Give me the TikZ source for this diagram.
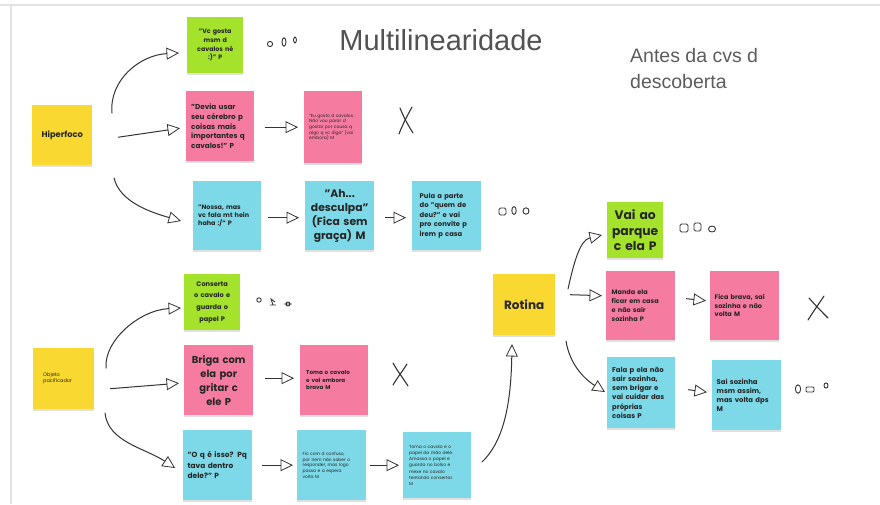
\documentclass[tikz,border=0pt]{standalone}
\usepackage{fontspec}
\setmainfont{Poppins}
\newfontfamily\titlefont{Liberation Sans}
\usetikzlibrary{arrows.meta,shadows}
\definecolor{ny}{HTML}{F9D931}
\definecolor{ng}{HTML}{A5E22B}
\definecolor{np}{HTML}{F57BA1}
\definecolor{nc}{HTML}{7DD8E7}
\definecolor{ink}{HTML}{333333}
\definecolor{frame}{HTML}{E2E2E2}
\newcommand{\fs}[2]{\fontsize{#1}{#2}\selectfont}
\begin{document}
\begin{tikzpicture}[x=1pt,y=-1pt,
  sticky/.style={anchor=north west, inner sep=0pt, text=black!85,
    general shadow={fill=black!12, shadow xshift=0pt, shadow yshift=-1.5pt}},
  hand/.style={draw=ink, line width=1pt, line cap=round, line join=round,
    -{Triangle[open,length=12.5pt,width=12pt,line width=0.8pt]}},
  doodle/.style={draw=ink, line width=0.9pt},
  xmark/.style={draw=ink, line width=1.1pt, line cap=round}]
\useasboundingbox[fill=white] (0,0) rectangle (880,504);
% page frame
\draw[frame, line width=1.5pt] (0,5) -- (880,5);
\draw[frame, line width=2pt] (11,5) -- (11,504);

% titles
\node[font=\titlefont\fs{29}{34}, text=ink!85, inner sep=0pt] (title) at (441,40) {Multilinearidade};
\node[anchor=north west, align=left, inner sep=0pt, font=\titlefont\fs{19.5}{26}, text=ink!80] (sub) at (630,48) {Antes da cvs d\\descoberta};

% ---------- Hiperfoco branch ----------
\node[sticky, fill=ny, minimum width=60pt, minimum height=60pt, font=\bfseries\fs{8.3}{10}] (hip) at (32,105) {Hiperfoco};
\node[sticky, fill=ng, minimum width=56pt, minimum height=56pt, text width=48pt, align=center, font=\bfseries\fs{6.3}{8.6}] (n1) at (187,17) {"Vc gosta\\msm d\\cavalos né\\:)" P};
\node[sticky, fill=np, minimum width=68pt, minimum height=70pt, text width=58pt, align=left, font=\bfseries\fs{7.2}{9.6}] (n2) at (186,91) {"Devia usar\\seu cérebro p\\coisas mais\\importantes q\\cavalos!" P};
\node[sticky, fill=np, minimum width=58pt, minimum height=72pt, text width=48pt, align=left, font=\fs{4.4}{5.6}] (n3) at (304,91) {"Eu gosto d cavalos.\\Não vou parar d\\gostar por causa q\\algo q vc diga" (vai\\embora) M};
\node[sticky, fill=nc, minimum width=68pt, minimum height=69pt, text width=58pt, align=left, font=\bfseries\fs{6.4}{8.2}] (n4) at (193,181) {"Nossa, mas\\vc fala mt hein\\haha :/" P};
\node[sticky, fill=nc, minimum width=69pt, minimum height=69pt, text width=64pt, align=center, font=\bfseries\fs{10.8}{14}] (n5) at (305,181) {"Ah...\\desculpa"\\(Fica sem\\graça) M};
\node[sticky, fill=nc, minimum width=69pt, minimum height=69pt, text width=54pt, align=left, font=\bfseries\fs{6.8}{9.4}] (n6) at (412,181) {Pula a parte\\do "quem de\\deu?" e vai\\pro convite p\\irem p casa};

\coordinate (h1s) at (112,113); \coordinate (h1e) at (179,53);
\coordinate (h3s) at (114,178); \coordinate (h3e) at (181,221);
\draw[hand] (h1s) .. controls (109,80) and (140,55) .. (h1e);
\draw[hand] ([xshift=26pt,yshift=-2pt]hip.east) -- ([xshift=-6pt,yshift=-2pt]n2.west);
\draw[hand] (h3s) .. controls (120,202) and (150,212) .. (h3e);
\draw[hand] ([xshift=11pt,yshift=-1pt]n2.east) -- ([xshift=-6pt]n3.west);
\draw[hand] ([xshift=7pt,yshift=-2pt]n4.east) -- ([xshift=-6pt,yshift=-2pt]n5.west);
\draw[hand] ([xshift=11pt,yshift=-2pt]n5.east) -- ([xshift=-6pt,yshift=-2pt]n6.west);

\draw[xmark] (400,108) .. controls (404,118) and (408,125) .. (413,133);
\draw[xmark] (412,107) .. controls (406,118) and (402,126) .. (399,134);

% ---------- Objeto pacificador branch ----------
\node[sticky, fill=ny, minimum width=61pt, minimum height=61pt] (obj) at (33,348) {};
\node[anchor=north west, inner sep=0pt, align=left, font=\fs{5}{6.4}, text=black!85] (objt) at (43,372) {Objeto\\pacificador};
\node[sticky, fill=ng, minimum width=56pt, minimum height=56pt, text width=50pt, align=center, font=\bfseries\fs{6.6}{11.6}] (m1) at (184,274) {Conserta\\o cavalo e\\guarda o\\papel P};
\node[sticky, fill=np, minimum width=69pt, minimum height=70pt, text width=64pt, align=center, font=\bfseries\fs{10}{14}] (m2) at (184,345) {Briga com\\ela por\\gritar c\\ele P};
\node[sticky, fill=np, minimum width=68pt, minimum height=70pt, text width=56pt, align=left, font=\bfseries\fs{5.6}{7.6}] (m3) at (300,345) {Toma o cavalo\\e vai embora\\brava M\\[10pt]};
\node[sticky, fill=nc, minimum width=69pt, minimum height=70pt, text width=60pt, align=left, font=\bfseries\fs{7.4}{10.5}] (m4) at (183,430) {"O q é isso? Pq\\tava dentro\\dele?" P};
\node[sticky, fill=nc, minimum width=69pt, minimum height=70pt, text width=58pt, align=left, font=\fs{4.4}{5.6}] (m5) at (297,430) {Fic com d confuso,\\por nem não saber o\\responder, mas logo\\passa e a espera\\volta M};
\node[sticky, fill=nc, minimum width=68pt, minimum height=66pt, text width=56pt, align=left, font=\fs{4.4}{6.2}] (m6) at (403,432) {Toma o cavalo e o\\papel da mão dele.\\Amassa o papel e\\guarda no bolso e\\mexe no cavalo\\tentando consertar.\\M};

\coordinate (o1s) at (106,368); \coordinate (o1e) at (181,308);
\coordinate (o3s) at (105,413); \coordinate (o3e) at (175,468);
\draw[hand] (o1s) .. controls (104,340) and (140,310) .. (o1e);
\draw[hand] ([xshift=16pt,yshift=-10pt]obj.east) -- ([xshift=-5pt,yshift=-3pt]m2.west);
\draw[hand] (o3s) .. controls (108,442) and (145,448) .. (o3e);
\draw[hand] ([xshift=12pt,yshift=2pt]m2.east) -- ([xshift=-6pt,yshift=2pt]m3.west);
\draw[hand] ([xshift=10pt]m4.east) -- ([xshift=-4pt]m5.west);
\draw[hand] ([xshift=4pt]m5.east) -- ([xshift=-4pt]m6.west);

\draw[xmark] (393,363) .. controls (398,372) and (403,378) .. (408,386);
\draw[xmark] (407,364) .. controls (402,372) and (397,378) .. (393,385);

% ---------- Rotina branch ----------
\node[sticky, fill=ny, minimum width=62pt, minimum height=61pt, font=\bfseries\fs{12}{14}] (rot) at (493,274) {Rotina};
\node[sticky, fill=ng, minimum width=56pt, minimum height=56pt, text width=54pt, align=center, font=\bfseries\fs{12.3}{15.5}] (r1) at (607,202) {Vai ao\\parque\\c ela P};
\node[sticky, fill=np, minimum width=69pt, minimum height=69pt, text width=58pt, align=left, font=\bfseries\fs{6.5}{8.8}] (r2) at (606,271) {Manda ela\\ficar em casa\\e não sair\\sozinha P};
\node[sticky, fill=np, minimum width=69pt, minimum height=69pt, text width=60pt, align=left, font=\bfseries\fs{6.5}{8.6}] (r3) at (710,271) {Fica brava, sai\\sozinha e não\\volta M\\[6pt]};
\node[sticky, fill=nc, minimum width=68pt, minimum height=71pt, text width=58pt, align=left, font=\bfseries\fs{6.9}{9.3}] (r4) at (607,357) {Fala p ela não\\sair sozinha,\\sem brigar e\\vai cuidar das\\próprias\\coisas P};
\node[sticky, fill=nc, minimum width=69pt, minimum height=70pt, text width=60pt, align=left, font=\bfseries\fs{6.9}{9.3}] (r5) at (712,360) {Sai sozinha\\msm assim,\\mas volta dps\\M};

\coordinate (cs) at (482,462); \coordinate (ce) at (512,344);
\draw[hand] (cs) .. controls (505,440) and (511,400) .. (ce);
\coordinate (r1s) at (568,289); \coordinate (r1e) at (602,235);
\coordinate (r3s) at (566,341); \coordinate (r3e) at (605,392);
\draw[hand] (r1s) .. controls (574,262) and (580,240) .. (r1e);
\draw[hand] ([xshift=15pt,yshift=10pt]rot.east) -- ([xshift=-4pt,yshift=10pt]r2.west);
\draw[hand] (r3s) .. controls (570,366) and (586,380) .. (r3e);
\draw[hand] ([xshift=11pt,yshift=7pt]r2.east) -- ([xshift=-4pt,yshift=5pt]r3.west);
\draw[hand] ([xshift=13pt,yshift=3pt]r4.east) -- ([xshift=-5pt,yshift=3pt]r5.west);

\draw[xmark] (809,298) .. controls (815,305) and (822,312) .. (828,318);
\draw[xmark] (824,296) .. controls (818,305) and (813,312) .. (808,320);

% ---------- doodles ----------
\draw[doodle] (270,44) circle[radius=2.6pt];
\draw[doodle] (284,42) ellipse[x radius=2pt, y radius=4.2pt];
\draw[doodle] (295,40) ellipse[x radius=1.4pt, y radius=3pt];

\draw[doodle, rounded corners=1.5pt] (499,208) rectangle (506,215);
\draw[doodle] (514,210.5) ellipse[x radius=2.2pt, y radius=4pt];
\draw[doodle] (526,211) ellipse[x radius=3pt, y radius=3.2pt];

\draw[doodle, rounded corners=1.5pt] (680,224) rectangle (688,232);
\draw[doodle, rounded corners=1.5pt] (694,223) rectangle (701,231);
\draw[doodle] (712,229) ellipse[x radius=3.5pt, y radius=3pt];

\draw[doodle] (259,300) circle[radius=2.2pt];
\draw[doodle] (270,305) -- (276,305) (273,305) -- (271,299) -- (275,302);
\draw[doodle] (284,304) -- (292,304) (288,304) circle[radius=2pt];

\draw[doodle] (798,389) ellipse[x radius=2.6pt, y radius=4.2pt];
\draw[doodle, rounded corners=1pt] (806,387) rectangle (814,392);
\draw[doodle] (826,385.5) ellipse[x radius=2pt, y radius=2.6pt];
\end{tikzpicture}
\end{document}
